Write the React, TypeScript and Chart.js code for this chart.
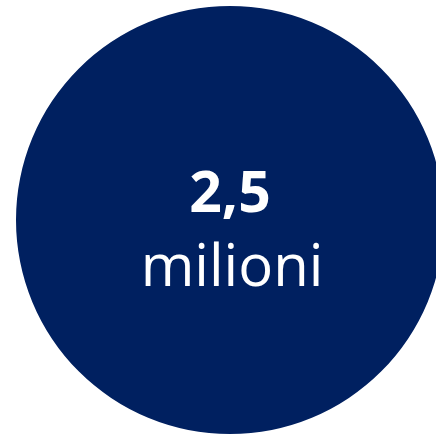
import React, { useEffect, useRef } from "react";
import { Chart, registerables } from "chart.js";

Chart.register(...registerables);

const categories = ["Totale"];
const values = [2.5];
const valueLabels = ["2,5"];
const unitLabels = ["milioni"];

const centerText = {
  id: "centerText",
  afterDraw(chart: any) {
    const meta = chart.getDatasetMeta(0);
    const arc = meta.data[0];
    if (!arc) return;
    const { x, y } = arc.getProps(["x", "y"], true);
    const ctx = chart.ctx;
    ctx.save();
    ctx.fillStyle = "#ffffff";
    ctx.textAlign = "center";
    ctx.textBaseline = "alphabetic";
    ctx.font = "bold 57px 'Open Sans'";
    ctx.fillText(valueLabels[0], x, y - 8);
    ctx.font = "normal 58px 'Open Sans'";
    ctx.fillText(unitLabels[0], x + 2, y + 66);
    ctx.restore();
  },
};

export default function App() {
  const ref = useRef<HTMLCanvasElement>(null);
  useEffect(() => {
    if (!ref.current) return;
    const chart = new Chart(ref.current, {
      type: "pie",
      data: {
        labels: categories,
        datasets: [
          {
            data: values,
            backgroundColor: ["#002060"],
            borderWidth: 0,
            hoverOffset: 0,
          },
        ],
      },
      options: {
        responsive: false,
        animation: false,
        layout: { padding: 0 },
        plugins: {
          legend: { display: false },
          tooltip: { enabled: false },
        },
      },
      plugins: [centerText],
    });
    return () => chart.destroy();
  }, []);
  return (
    <div
      style={{
        position: "fixed",
        left: 0,
        top: 0,
        width: 436,
        height: 435,
        overflow: "hidden",
        background: "#ffffff",
      }}
    >
      <canvas
        ref={ref}
        width={460}
        height={428}
        style={{ position: "absolute", left: 0, top: 6, width: 460, height: 428 }}
      />
    </div>
  );
}
